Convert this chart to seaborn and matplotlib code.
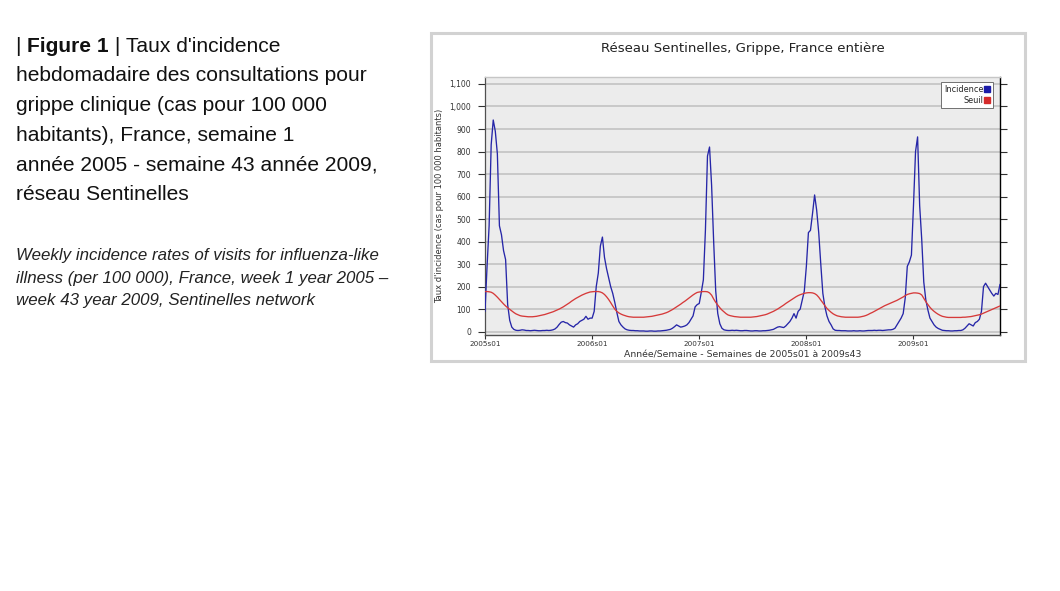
import numpy as np
import pandas as pd
import matplotlib
matplotlib.use("Agg")
import matplotlib.pyplot as plt
from matplotlib.patches import Rectangle
from matplotlib.lines import Line2D
from matplotlib.ticker import FuncFormatter
import seaborn as sns

# ---------------- data (weekly values) ----------------
inc_2005 = [90, 290, 470, 830, 940, 890, 790, 470, 430, 360,
            320, 120, 50, 20, 10, 6, 5, 6, 8, 7,
            5, 5, 4, 5, 6, 5, 4, 4, 5, 5,
            6, 5, 6, 8, 12, 20, 32, 42, 45, 40,
            38, 30, 25, 20, 30, 35, 45, 50, 55, 68,
            55, 60]
inc_2006 = [60, 90, 200, 260, 380, 420, 330, 280, 240, 200,
            170, 130, 85, 45, 30, 20, 12, 8, 6, 5,
            5, 4, 4, 3, 3, 3, 2, 2, 3, 3,
            2, 2, 3, 3, 4, 5, 6, 8, 10, 15,
            22, 30, 25, 20, 22, 25, 30, 40, 55, 70,
            110, 120]
inc_2007 = [125, 175, 230, 450, 780, 820, 650, 400, 180, 80,
            35, 15, 8, 6, 5, 5, 6, 5, 6, 5,
            4, 4, 5, 5, 4, 3, 3, 4, 4, 3,
            3, 4, 4, 5, 6, 8, 10, 15, 20, 22,
            20, 18, 25, 35, 45, 60, 80, 60, 90, 100,
            140, 180]
inc_2008 = [290, 440, 450, 525, 607, 540, 440, 300, 170, 110,
            70, 45, 30, 12, 6, 5, 5, 4, 4, 4,
            3, 3, 3, 4, 3, 3, 4, 3, 3, 4,
            5, 5, 5, 6, 5, 6, 6, 5, 6, 7,
            8, 8, 10, 15, 30, 45, 60, 80, 150, 290,
            310, 340]
inc_2009 = [560, 800, 865, 560, 410, 220, 140, 96, 60, 45,
            30, 20, 14, 10, 6, 5, 4, 4, 3, 3,
            4, 4, 5, 5, 8, 15, 25, 35, 30, 25,
            40, 45, 55, 90, 200, 215, 200, 185, 170, 158,
            170, 165, 210]

seuil_2005 = [178, 178, 177, 175, 170, 162, 153, 143, 133, 123,
              114, 106, 99, 92, 85, 79, 75, 71, 69, 68,
              67, 66, 66, 66, 67, 68, 70, 72, 74, 76,
              79, 82, 85, 88, 92, 96, 100, 105, 110, 116,
              122, 128, 135, 141, 147, 152, 157, 162, 166, 170,
              173, 176]
seuil_2006 = [177, 178, 178, 178, 176, 172, 165, 155, 143, 129,
              114, 100, 90, 83, 78, 74, 71, 68, 66, 65,
              64, 64, 64, 64, 64, 64, 65, 66, 67, 68,
              70, 72, 74, 76, 78, 81, 84, 88, 93, 98,
              104, 110, 116, 122, 129, 135, 142, 149, 156, 163,
              169, 174]
seuil_2007 = [176, 177, 178, 178, 177, 172, 162, 145, 130, 118,
              106, 96, 88, 80, 74, 71, 69, 67, 66, 65,
              64, 64, 64, 64, 64, 64, 65, 66, 67, 69,
              71, 73, 75, 78, 82, 86, 90, 95, 100, 106,
              112, 118, 125, 131, 137, 143, 149, 155, 160, 164,
              167, 170]
seuil_2008 = [172, 173, 173, 172, 169, 163, 153, 140, 128, 115,
              103, 94, 86, 79, 74, 70, 68, 66, 65, 64,
              64, 64, 64, 64, 64, 64, 65, 67, 69, 72,
              76, 81, 85, 90, 95, 100, 105, 110, 115, 119,
              123, 127, 131, 135, 139, 144, 149, 154, 160, 165,
              168, 170]
seuil_2009 = [172, 172, 171, 169, 163, 148, 133, 120, 108, 98,
              90, 83, 77, 72, 68, 66, 64, 63, 63, 63,
              63, 63, 63, 63, 64, 64, 65, 66, 67, 69,
              71, 73, 75, 78, 82, 86, 90, 94, 98, 102,
              106, 110, 114]

incidence = inc_2005 + inc_2006 + inc_2007 + inc_2008 + inc_2009
seuil = seuil_2005 + seuil_2006 + seuil_2007 + seuil_2008 + seuil_2009
weeks = list(range(len(incidence)))

tick_weeks = [0, 52, 104, 156, 208]
tick_labels = ["2005s01", "2006s01", "2007s01", "2008s01", "2009s01"]
y_ticks = [0, 100, 200, 300, 400, 500, 600, 700, 800, 900, 1000, 1100]

df = pd.DataFrame({
    "week": weeks * 2,
    "value": incidence + seuil,
    "serie": ["Incidence"] * len(incidence) + ["Seuil"] * len(seuil),
})

# ---------------- figure ----------------
sns.set_style("white")
plt.rcParams["font.family"] = ["DejaVu Sans"]

W, H = 1060, 591
fig = plt.figure(figsize=(W / 100, H / 100), dpi=100)
fig.patch.set_facecolor("white")


def fx(px):
    return px / W


def fy(py):
    return 1 - py / H


# frame around the chart (background axes)
bg = fig.add_axes([0, 0, 1, 1], zorder=0)
bg.set_xlim(0, W)
bg.set_ylim(H, 0)
bg.axis("off")
bg.add_patch(Rectangle((431, 33), 594, 328, facecolor="white",
                       edgecolor="#d2d2d2", lw=2.2))

ax = fig.add_axes([fx(485), fy(335), fx(1000) - fx(485), fy(77) - fy(335)], zorder=2)
ax.set_facecolor("#ececec")

palette = {"Incidence": "#2626a8", "Seuil": "#d63a3a"}
sns.lineplot(data=df, x="week", y="value", hue="serie", palette=palette,
             linewidth=0.95, legend=False, ax=ax, zorder=3)

ax.set_xlim(0, 250)
ax.set_ylim(-15, 1131)
ax.set_yticks(y_ticks)
ax.yaxis.set_major_formatter(FuncFormatter(lambda v, p: f"{int(v):,}"))
ax.set_xticks(tick_weeks)
ax.set_xticklabels(tick_labels)

ax.grid(axis="y", color="#c6c6c6", lw=1.3, zorder=1)
ax.grid(axis="x", visible=False)
ax.set_axisbelow(True)

ax.tick_params(axis="y", which="both", left=True, right=True, direction="out",
               length=5, width=0.8, color="#303030", labelsize=5.5,
               labelcolor="#333333", pad=5)
ax.tick_params(axis="x", bottom=True, direction="out", length=3, width=0.8,
               color="#303030", labelsize=5.2, labelcolor="#333333", pad=1.0)

for side, col, lw in [("left", "#505050", 0.9), ("bottom", "#505050", 1.0),
                      ("right", "#000000", 1.0), ("top", "#c6c6c6", 1.0)]:
    ax.spines[side].set_visible(True)
    ax.spines[side].set_color(col)
    ax.spines[side].set_linewidth(lw)

ax.set_xlabel("Année/Semaine - Semaines de 2005s01 à 2009s43", fontsize=6.7,
              color="#333333", labelpad=2.5)
ax.set_ylabel("Taux d'incidence (cas pour 100 000 habitants)", fontsize=6.0,
              color="#333333", labelpad=4)
ax.set_title("Réseau Sentinelles, Grippe, France entière", fontsize=9.5,
             color="#222222", pad=18)

handles = [Line2D([], [], ls="none", marker="s", markersize=4.6,
                  markerfacecolor="#1c1ca8", markeredgecolor="#1c1ca8"),
           Line2D([], [], ls="none", marker="s", markersize=4.6,
                  markerfacecolor="#d42a2a", markeredgecolor="#d42a2a")]
leg = ax.legend(handles, ["Incidence", "Seuil"], loc="upper right",
                bbox_to_anchor=(1 - 7 / 515, 1 - 5 / 258), borderaxespad=0,
                fontsize=5.9, markerfirst=False, frameon=True, fancybox=False,
                handlelength=0.6, handletextpad=0.2, borderpad=0.4,
                labelspacing=0.2, framealpha=1)
leg.get_frame().set_edgecolor("#707070")
leg.get_frame().set_linewidth(0.7)
leg.set_zorder(5)

# ---------------- caption text on the left ----------------
cap_font = ["Liberation Sans", "DejaVu Sans"]
cap_size = 15.1
fig.canvas.draw()
renderer = fig.canvas.get_renderer()

x0 = fx(16)
y1 = fy(51.7)
pieces = [("| ", "normal"), ("Figure 1", "bold"), (" | Taux d'incidence", "normal")]
xcur = x0
for txt, wt in pieces:
    t = fig.text(xcur, y1, txt, fontsize=cap_size, fontweight=wt,
                 family=cap_font, color="#111111", va="baseline", ha="left")
    bb = t.get_window_extent(renderer=renderer)
    xcur = xcur + bb.width / W

caption_lines = ["hebdomadaire des consultations pour",
                 "grippe clinique (cas pour 100 000",
                 "habitants), France, semaine 1",
                 "année 2005 - semaine 43 année 2009,",
                 "réseau Sentinelles"]
base_y = [81.5, 111.2, 141.0, 170.7, 200.4]
for line, by in zip(caption_lines, base_y):
    fig.text(x0, fy(by), line, fontsize=cap_size, family=cap_font,
             color="#111111", va="baseline", ha="left")

en_lines = ["Weekly incidence rates of visits for influenza-like",
            "illness (per 100 000), France, week 1 year 2005 \u2013",
            "week 43 year 2009, Sentinelles network"]
en_y = [260.0, 282.5, 305.0]
for line, by in zip(en_lines, en_y):
    fig.text(x0, fy(by), line, fontsize=12.2, family=cap_font, style="italic",
             color="#222222", va="baseline", ha="left")

fig.savefig("out.png", dpi=100, facecolor="white")
